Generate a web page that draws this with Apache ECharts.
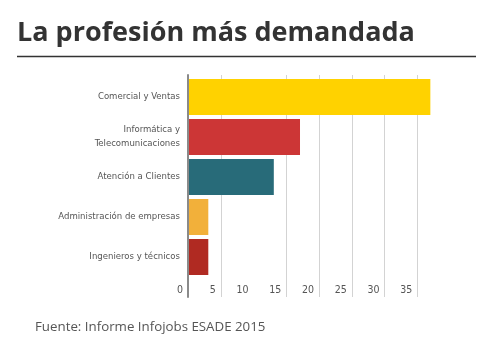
<!DOCTYPE html>
<html>
<head>
<meta charset="utf-8">
<script src="https://cdn.jsdelivr.net/npm/echarts@6/dist/echarts.min.js"></script>
<style>
  html, body { margin: 0; padding: 0; background: #fff; }
  #chart { width: 494px; height: 352px; }
</style>
</head>
<body>
<div id="chart"></div>
<script>
  // datos
  var profesiones = ['Comercial y Ventas', 'Informática y\nTelecomunicaciones', 'Atención a Clientes', 'Administración de empresas', 'Ingenieros y técnicos']
  var valores = [37, 17.1, 13.1, 3.1, 3.1]
  var colores = ['#ffd200', '#cc3636', '#286b79', '#f2b03a', '#b02a22']
  var ejeMin = 0
  var ejeMax = 40
  var ejePaso = 5

  var labelFont = '"Liberation Sans Narrow", "DejaVu Sans Condensed", sans-serif'
  var gris = '#d3d3d3'
  var nada = 'rgba(0,0,0,0)'

  var myChart = echarts.init(document.getElementById('chart'))
  var option = {
    animation: false,
    backgroundColor: '#fff',
    title: {
      text: 'La profesión más demandada',
      left: 12,
      top: 15,
      textStyle: {
        fontFamily: '"Open Sans", "Noto Sans", sans-serif',
        fontWeight: 'bold',
        fontSize: 27,
        color: '#333'
      }
    },
    graphic: [
      {
        type: 'line',
        shape: { x1: 17, y1: 56.5, x2: 476, y2: 56.5 },
        style: { stroke: '#333', lineWidth: 1.5 }
      },
      {
        type: 'text',
        left: 35,
        top: 321,
        style: {
          text: 'Fuente: Informe Infojobs ESADE 2015',
          font: '13.3px "Open Sans", "Noto Sans", sans-serif',
          fill: '#555'
        }
      }
    ],
    grid: [
      // barras
      { left: 188, right: 44, top: 77, height: 200 },
      // lineas de fondo, un poco mas largas
      { left: 188, right: 44, top: 75, height: 222 }
    ],
    xAxis: [
      {
        gridIndex: 0,
        type: 'value',
        min: ejeMin,
        max: ejeMax,
        interval: ejePaso,
        splitLine: { show: false },
        axisLine: { show: false },
        axisTick: { show: false },
        axisLabel: {
          showMaxLabel: false,
          align: 'right',
          margin: 8,
          padding: [0, 5, 0, 0],
          fontFamily: labelFont,
          fontSize: 10.5,
          color: '#555'
        }
      },
      {
        gridIndex: 1,
        type: 'value',
        min: ejeMin,
        max: ejeMax,
        interval: ejePaso,
        axisLine: { show: false },
        axisTick: { show: false },
        axisLabel: { show: false },
        splitLine: {
          show: true,
          lineStyle: {
            width: 1,
            // la linea del 10 y la del 40 no aparecen en el original
            color: [nada, gris, nada, gris, gris, gris, gris, gris, nada]
          }
        }
      }
    ],
    yAxis: [
      {
        gridIndex: 0,
        type: 'category',
        inverse: true,
        data: profesiones,
        axisLine: { show: false },
        axisTick: { show: false },
        axisLabel: {
          margin: 8,
          fontFamily: labelFont,
          fontSize: 9.5,
          lineHeight: 14,
          color: '#555'
        }
      },
      {
        gridIndex: 1,
        type: 'value',
        min: 0,
        max: 1,
        z: 5,
        splitLine: { show: false },
        axisTick: { show: false },
        axisLabel: { show: false },
        axisLine: { show: true, lineStyle: { color: '#8a8a8a', width: 2 } }
      }
    ],
    series: [
      {
        type: 'bar',
        xAxisIndex: 0,
        yAxisIndex: 0,
        barCategoryGap: '10%',
        data: valores.map(function (v, i) {
          return { value: v, itemStyle: { color: colores[i] } }
        })
      }
    ]
  }
  myChart.setOption(option)
</script>
</body>
</html>
